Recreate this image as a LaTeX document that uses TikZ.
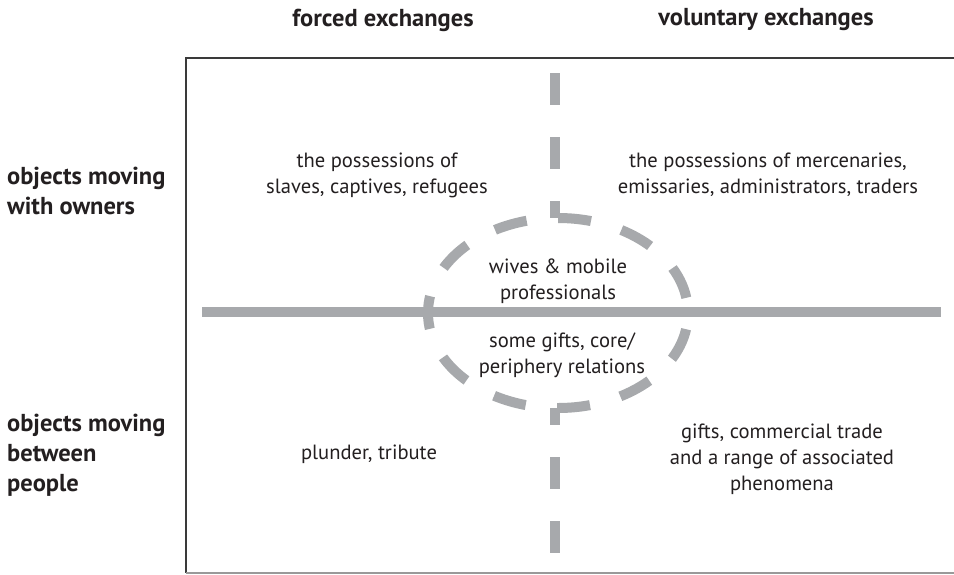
\documentclass[tikz,border=0pt]{standalone}
\usepackage{fontspec}
\setmainfont{PT Sans}
\definecolor{ink}{HTML}{231F20}
\definecolor{rule}{HTML}{A7A9AC}
\definecolor{frameline}{HTML}{3A3A3A}
\begin{document}
\begin{tikzpicture}[x=1pt,y=-1pt,
  every node/.style={text=ink, inner sep=0pt},
  cell/.style={align=center, font=\fontsize{20.6}{26}\selectfont},
  rowhead/.style={align=left, anchor=west, font=\fontsize{24.5}{30}\selectfont\bfseries},
  colhead/.style={font=\fontsize{24.5}{30}\selectfont\bfseries},
  divider/.style={draw=rule, line width=10pt},
  ringline/.style={draw=rule, fill=white, line width=10pt, dash pattern=on 33pt off 31.65pt, dash phase=48.3pt}]
  \useasboundingbox (0,0) rectangle (954,574);

  % frame: dark top and left sides, light bottom side
  \coordinate (tl) at (186,58);
  \coordinate (tr) at (954,58);
  \coordinate (bl) at (186,573);
  \coordinate (br) at (954,573);
  \draw[frameline, line width=2.5pt] (tr) -- (tl) -- (bl);
  \draw[black!40, line width=1.5pt] (bl) -- (br);

  % vertical dashed divider
  \coordinate (vtop) at (555,73);
  \coordinate (vbot) at (555,553);
  \draw[divider, dash pattern=on 32pt off 32pt] (vtop) -- (vbot);

  % central ring, hiding the divider inside it
  \coordinate (ringc) at (558,313);
  \path[ringline] (ringc) ellipse [x radius=130, y radius=95];

  % horizontal divider
  \coordinate (hl) at (202,312);
  \coordinate (hr) at (941,312);
  \draw[divider] (hl) -- (hr);

  % column headings
  \node[colhead] (forced) at (383,20) {forced exchanges};
  \node[colhead] (voluntary) at (766,20) {voluntary exchanges};

  % row headings
  \node[rowhead] (owners) at (7,191) {objects moving\\with owners};
  \node[rowhead] (between) at (7,455) {objects moving\\between\\people};

  % cell texts
  \node[cell] (q1) at (377,175) {the possessions of\\slaves, captives, refugees};
  \node[cell] (q2) at (768,175) {the possessions of mercenaries,\\emissaries, administrators, traders};
  \node[cell] (c1) at (558,281) {wives \& mobile\\professionals};
  \node[cell] (c2) at (562,355) {some gifts, core/\\periphery relations};
  \node[cell] (q3) at (369,454) {plunder, tribute};
  \node[cell] (q4) at (782,459) {gifts, commercial trade\\and a range of associated\\phenomena};
\end{tikzpicture}
\end{document}
